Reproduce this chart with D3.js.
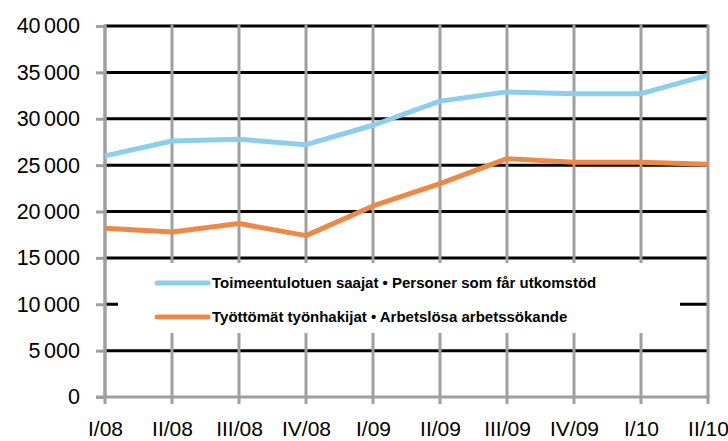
<!DOCTYPE html>
<html>
<head>
<meta charset="utf-8">
<script src="https://cdn.jsdelivr.net/npm/d3@7"></script>
<style>
  body { margin: 0; background: #fff; }
  text { font-family: "Liberation Sans", Arial, sans-serif; }
</style>
</head>
<body>
<script>
// quarters
const quarters = ["I/08", "II/08", "III/08", "IV/08", "I/09", "II/09", "III/09", "IV/09", "I/10", "II/10"];
// Toimeentulotuen saajat
const saajat = [26000, 27600, 27800, 27200, 29300, 31900, 32900, 32700, 32700, 34700];
// Työttömät työnhakijat
const hakijat = [18200, 17800, 18700, 17400, 20600, 23000, 25700, 25300, 25300, 25100];
const yTicks = [0, 5000, 10000, 15000, 20000, 25000, 30000, 35000, 40000];
const seriesNames = [
  "Toimeentulotuen saajat • Personer som får utkomstöd",
  "Työttömät työnhakijat • Arbetslösa arbetssökande"
];
const colors = ["#8dcdee", "#ed8947"];

var w = 728, h = 441;
var pLeft = 105, pRight = 708, pTop = 26, pBottom = 397;

var svg = d3.select("body").append("svg")
  .attr("width", w).attr("height", h);

var xScale = d3.scalePoint().domain(quarters).range([pLeft, pRight]);
var yScale = d3.scaleLinear().domain([0, 40000]).range([pBottom, pTop]);

// horizontal gridlines (black)
svg.append("g")
  .selectAll("line")
  .data(yTicks.filter(d => d > 0))
  .enter().append("line")
  .attr("x1", pLeft).attr("x2", pRight)
  .attr("y1", d => yScale(d)).attr("y2", d => yScale(d))
  .attr("stroke", "#000").attr("stroke-width", 3);

// vertical gridlines (gray)
svg.append("g")
  .selectAll("line")
  .data(quarters)
  .enter().append("line")
  .attr("x1", d => xScale(d)).attr("x2", d => xScale(d))
  .attr("y1", pTop - 1.5).attr("y2", pBottom + 7)
  .attr("stroke", "#a0a0a0").attr("stroke-width", 3);

// y axis
var yAxis = d3.axisLeft(yScale)
  .tickValues(yTicks)
  .tickSize(9)
  .tickPadding(16)
  .tickFormat(d => d3.format(",")(d).replace(",", "\u2006"));

var gy = svg.append("g")
  .attr("transform", `translate(${pLeft},0)`)
  .call(yAxis);
gy.select(".domain").attr("stroke", "#a0a0a0").attr("stroke-width", 3)
  .attr("d", `M0,${pTop - 1.5}V${pBottom}`);
gy.selectAll(".tick line").attr("stroke", "#a0a0a0").attr("stroke-width", 3);
gy.selectAll(".tick text")
  .attr("font-size", "21.5px").attr("fill", "#000")
  .attr("font-family", "'Liberation Sans', Arial, sans-serif");

// x axis
var xAxis = d3.axisBottom(xScale).tickSize(0).tickPadding(24);
var gx = svg.append("g")
  .attr("transform", `translate(0,${pBottom})`)
  .call(xAxis);
gx.select(".domain").attr("stroke", "#a0a0a0").attr("stroke-width", 3)
  .attr("d", `M${pLeft - 9},0H${pRight + 1.5}`);
gx.selectAll(".tick text")
  .attr("font-size", "21px").attr("fill", "#000")
  .attr("font-family", "'Liberation Sans', Arial, sans-serif");

// lines
var line = d3.line()
  .x((d, i) => xScale(quarters[i]))
  .y(d => yScale(d));

[saajat, hakijat].forEach(function (s, i) {
  svg.append("path")
    .datum(s)
    .attr("d", line)
    .attr("fill", "none")
    .attr("stroke", colors[i])
    .attr("stroke-width", 5)
    .attr("stroke-linejoin", "round");
});

// legend box
svg.append("rect")
  .attr("x", 118).attr("y", 263)
  .attr("width", 562).attr("height", 70)
  .attr("fill", "#fff");

var legend = svg.append("g")
  .selectAll("g")
  .data(seriesNames)
  .enter().append("g")
  .attr("transform", (d, i) => `translate(157,${283 + i * 34})`);

legend.append("line")
  .attr("x1", 0).attr("x2", 51)
  .attr("stroke", (d, i) => colors[i])
  .attr("stroke-width", 5)
  .attr("stroke-linecap", "round");

legend.append("text")
  .attr("x", 55).attr("y", 5)
  .attr("font-size", "15px")
  .attr("font-weight", "bold")
  .attr("fill", "#000")
  .text(d => d);
</script>
</body>
</html>
